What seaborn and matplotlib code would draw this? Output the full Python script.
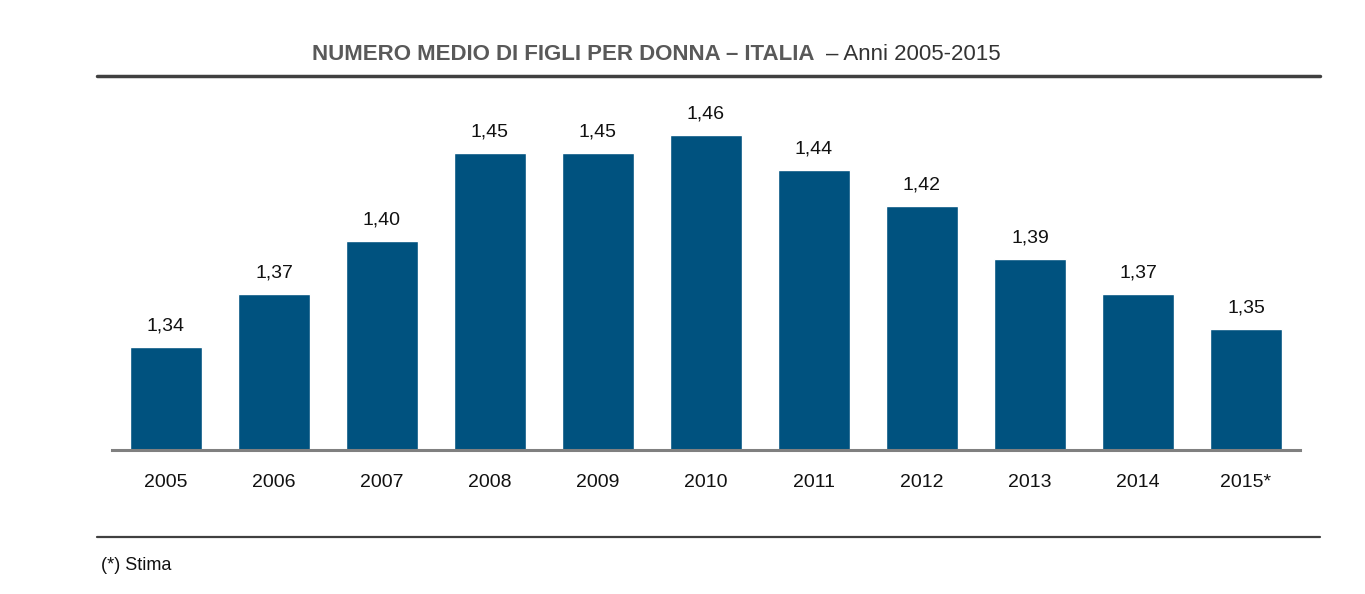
import matplotlib
matplotlib.use("Agg")
import matplotlib.pyplot as plt
import seaborn as sns
import pandas as pd
from matplotlib.lines import Line2D

years = ["2005", "2006", "2007", "2008", "2009", "2010", "2011", "2012", "2013", "2014", "2015*"]
values = [1.34, 1.37, 1.40, 1.45, 1.45, 1.46, 1.44, 1.42, 1.39, 1.37, 1.35]
title_main = "NUMERO MEDIO DI FIGLI PER DONNA – ITALIA"
title_sub = "– Anni 2005-2015"
footnote = "(*) Stima"

sns.set_theme(style="white")
plt.rcParams['font.family'] = ['Liberation Sans', 'DejaVu Sans']

df = pd.DataFrame({"year": years, "value": values})

W, H = 1365, 594
fig = plt.figure(figsize=(W / 100, H / 100), dpi=100)
ax = fig.add_axes([112 / W, 1 - 450 / H, 1188 / W, 350 / H])

sns.barplot(data=df, x="year", y="value", color="#00527F", saturation=1,
            width=0.66, ax=ax)
ax.set_xlim(-0.5, 10.5)
ax.set_ylim(1.2817, 1.2817 + 350 / 1767)

for p, v in zip(ax.patches, values):
    ax.annotate(f"{v:.2f}".replace(".", ","), (p.get_x() + p.get_width() / 2, p.get_height() + p.get_y()),
                xytext=(0, 9), textcoords="offset points", ha="center", va="bottom",
                fontsize=14, color="#111111")

ax.set_xlabel("")
ax.set_ylabel("")
ax.set_yticks([])
for s in ["top", "right", "left"]:
    ax.spines[s].set_visible(False)
ax.spines["bottom"].set_color("#808080")
ax.spines["bottom"].set_linewidth(2.2)
ax.tick_params(axis="x", length=0, pad=17, labelsize=14, colors="#111111")

t1 = fig.text(312 / W, 1 - 55 / H, title_main, fontsize=16, fontweight="bold",
              color="#595959", ha="left", va="center")
fig.canvas.draw()
bb = t1.get_window_extent()
fig.text((bb.x1 + 12) / W, 1 - 55 / H, title_sub, fontsize=16, color="#333333",
         ha="left", va="center")

fig.add_artist(Line2D([97 / W, 1320 / W], [1 - 76 / H, 1 - 76 / H], color="#404040", linewidth=2.5))
fig.add_artist(Line2D([97 / W, 1320 / W], [1 - 537 / H, 1 - 537 / H], color="#404040", linewidth=1.6))
fig.text(101 / W, 1 - 566 / H, footnote, fontsize=13, color="#111111", ha="left", va="center")

fig.savefig("out.png", dpi=100)
